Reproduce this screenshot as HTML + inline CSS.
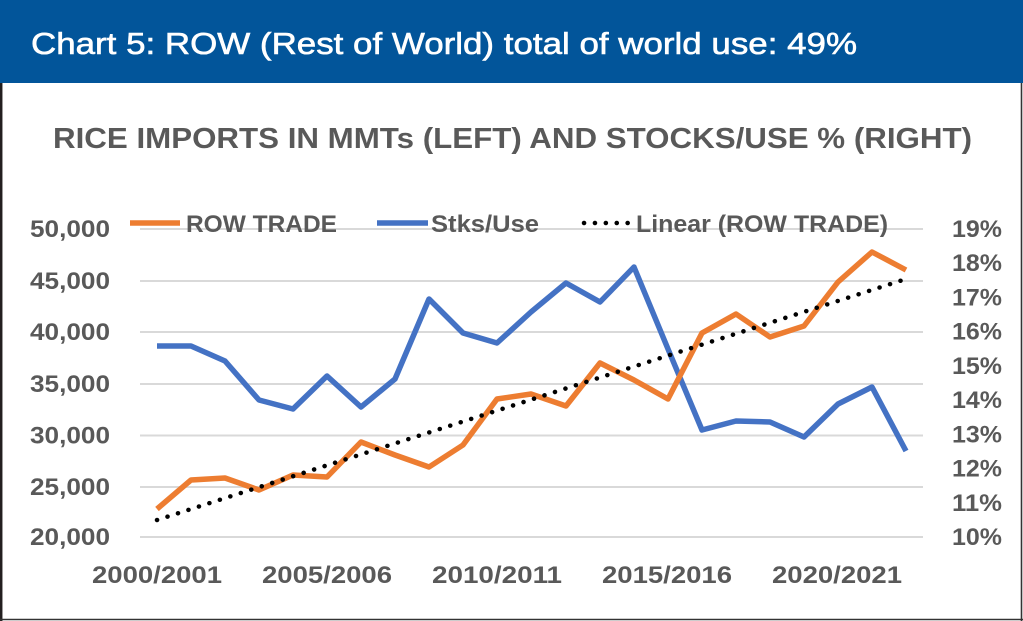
<!DOCTYPE html>
<html>
<head>
<meta charset="utf-8">
<style>
  html,body{margin:0;padding:0;background:#fff;}
  body{width:1023px;height:621px;overflow:hidden;}
  svg{display:block;}
  .ax{font-family:"Liberation Sans",Arial,sans-serif;font-weight:bold;font-size:24px;fill:#595959;}
</style>
</head>
<body>
<svg width="1023" height="621" viewBox="0 0 1023 621" xmlns="http://www.w3.org/2000/svg">
  <rect x="0" y="0" width="1023" height="621" fill="#ffffff"/>
  <!-- header band -->
  <rect x="0" y="0" width="1023" height="83" fill="#02559a"/>
  <text x="31" y="54" font-family="Liberation Sans, Arial, sans-serif" font-size="31" fill="#ffffff" stroke="#ffffff" stroke-width="0.6" textLength="826" lengthAdjust="spacingAndGlyphs">Chart 5: ROW (Rest of World) total of world use: 49%</text>

  <!-- border -->
  <line x1="1.2" y1="83" x2="1.2" y2="621" stroke="#231f20" stroke-width="2.5"/>
  <line x1="0" y1="619.5" x2="1023" y2="619.5" stroke="#333" stroke-width="1.6"/>
  <line x1="1021.5" y1="83" x2="1021.5" y2="621" stroke="#333" stroke-width="1.6"/>

  <!-- chart title -->
  <text x="53" y="148" font-family="Liberation Sans, Arial, sans-serif" font-weight="bold" font-size="29" fill="#595959" textLength="919" lengthAdjust="spacingAndGlyphs">RICE IMPORTS IN MMTs (LEFT) AND STOCKS/USE % (RIGHT)</text>

  <!-- gridlines -->
  <g stroke="#d9d9d9" stroke-width="2">
    <line x1="140" y1="229" x2="923" y2="229"/>
    <line x1="140" y1="281" x2="923" y2="281"/>
    <line x1="140" y1="332" x2="923" y2="332"/>
    <line x1="140" y1="384" x2="923" y2="384"/>
    <line x1="140" y1="435.5" x2="923" y2="435.5"/>
    <line x1="140" y1="487" x2="923" y2="487"/>
    <line x1="140" y1="537" x2="923" y2="537"/>
  </g>

  <!-- left axis labels -->
  <g class="ax" text-anchor="end">
    <text x="110" y="237" textLength="80" lengthAdjust="spacingAndGlyphs">50,000</text>
    <text x="110" y="289" textLength="80" lengthAdjust="spacingAndGlyphs">45,000</text>
    <text x="110" y="340" textLength="80" lengthAdjust="spacingAndGlyphs">40,000</text>
    <text x="110" y="392" textLength="80" lengthAdjust="spacingAndGlyphs">35,000</text>
    <text x="110" y="443.5" textLength="80" lengthAdjust="spacingAndGlyphs">30,000</text>
    <text x="110" y="495" textLength="80" lengthAdjust="spacingAndGlyphs">25,000</text>
    <text x="110" y="545" textLength="80" lengthAdjust="spacingAndGlyphs">20,000</text>
  </g>

  <!-- right axis labels -->
  <g class="ax">
    <text x="952" y="237" textLength="50" lengthAdjust="spacingAndGlyphs">19%</text>
    <text x="952" y="271.2" textLength="50" lengthAdjust="spacingAndGlyphs">18%</text>
    <text x="952" y="305.4" textLength="50" lengthAdjust="spacingAndGlyphs">17%</text>
    <text x="952" y="339.7" textLength="50" lengthAdjust="spacingAndGlyphs">16%</text>
    <text x="952" y="373.9" textLength="50" lengthAdjust="spacingAndGlyphs">15%</text>
    <text x="952" y="408.1" textLength="50" lengthAdjust="spacingAndGlyphs">14%</text>
    <text x="952" y="442.3" textLength="50" lengthAdjust="spacingAndGlyphs">13%</text>
    <text x="952" y="476.6" textLength="50" lengthAdjust="spacingAndGlyphs">12%</text>
    <text x="952" y="510.8" textLength="50" lengthAdjust="spacingAndGlyphs">11%</text>
    <text x="952" y="545" textLength="50" lengthAdjust="spacingAndGlyphs">10%</text>
  </g>

  <!-- x axis labels -->
  <g class="ax" text-anchor="middle">
    <text x="157" y="583" textLength="130" lengthAdjust="spacingAndGlyphs">2000/2001</text>
    <text x="327" y="583" textLength="130" lengthAdjust="spacingAndGlyphs">2005/2006</text>
    <text x="497" y="583" textLength="130" lengthAdjust="spacingAndGlyphs">2010/2011</text>
    <text x="667" y="583" textLength="130" lengthAdjust="spacingAndGlyphs">2015/2016</text>
    <text x="837" y="583" textLength="130" lengthAdjust="spacingAndGlyphs">2020/2021</text>
  </g>

  <!-- legend -->
  <line x1="130" y1="223" x2="180" y2="223" stroke="#ed7d31" stroke-width="5.5"/>
  <text class="ax" x="186" y="232" textLength="151" lengthAdjust="spacingAndGlyphs">ROW TRADE</text>
  <line x1="377" y1="223" x2="428" y2="223" stroke="#4472c4" stroke-width="5.5"/>
  <text class="ax" x="431" y="232" textLength="108" lengthAdjust="spacingAndGlyphs">Stks/Use</text>
  <line x1="584" y1="223" x2="630" y2="223" stroke="#000" stroke-width="4.5" stroke-linecap="round" stroke-dasharray="0.1 10.8"/>
  <text class="ax" x="636" y="232" textLength="252" lengthAdjust="spacingAndGlyphs">Linear (ROW TRADE)</text>

  <!-- series: Stks/Use (blue) -->
  <polyline fill="none" stroke="#4472c4" stroke-width="5.5" stroke-linejoin="round"
    points="157,346 191,346 225,361 259,400 293,409 327,376 361,407 395,379 429,299 463,333 497,343 531,312 566,283 600,302 634,267 668,349 702,430 736,421 770,422 804,437 838,404 872,387 906,451"/>

  <!-- series: ROW TRADE (orange) -->
  <polyline fill="none" stroke="#ed7d31" stroke-width="5.5" stroke-linejoin="round"
    points="157,509 191,480 225,478 259,490 293,475 327,477 361,442 395,455 429,467 463,445 497,399 531,394 566,406 600,363 634,380 668,399 702,333 736,314 770,337 804,326 838,282 872,252 906,270"/>

  <!-- trend line (dotted) -->
  <line x1="157" y1="520" x2="906" y2="279" stroke="#000" stroke-width="4.5" stroke-linecap="round" stroke-dasharray="0.1 10.9"/>
</svg>
</body>
</html>
